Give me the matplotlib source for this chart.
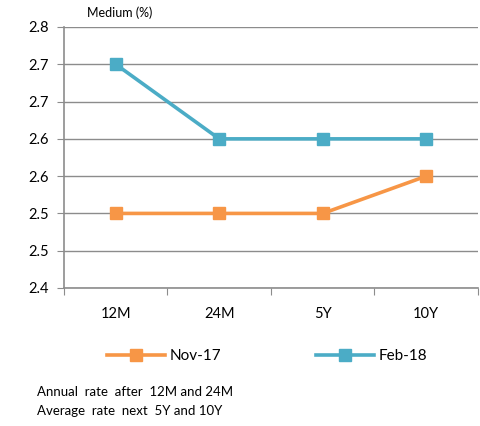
import matplotlib.pyplot as plt
from matplotlib.lines import Line2D

# Data
categories = ['12M', '24M', '5Y', '10Y']
nov17 = [2.50, 2.50, 2.50, 2.55]
feb18 = [2.70, 2.60, 2.60, 2.60]
yticks = [2.40, 2.45, 2.50, 2.55, 2.60, 2.65, 2.70, 2.75]
ytick_labels = ['2.4', '2.5', '2.5', '2.6', '2.6', '2.7', '2.7', '2.8']

orange = '#F79646'
blue = '#4BACC6'
grid_c = '#8C8C8C'

plt.rcParams['font.family'] = ['Lato', 'DejaVu Sans']

fig = plt.figure(figsize=(4.81, 4.26), dpi=100)
ax = fig.add_axes([64/481, 138/426, 414/481, 261/426])

x = list(range(len(categories)))
ax.plot(x, nov17, color=orange, lw=2.6, marker='s', ms=8, zorder=3)
ax.plot(x, feb18, color=blue, lw=2.6, marker='s', ms=8, zorder=3)

ax.set_xlim(-0.5, len(categories) - 0.5)
ax.set_ylim(2.40, 2.75)
ax.set_yticks(yticks)
ax.set_yticklabels(ytick_labels, fontsize=10.5)
ax.yaxis.grid(True, color=grid_c, lw=1)
ax.set_axisbelow(True)

# category labels centred, ticks on boundaries
ax.set_xticks([i - 0.5 for i in range(len(categories) + 1)])
ax.set_xticklabels([])
ax.set_xticks(x, minor=True)
ax.set_xticklabels(categories, minor=True, fontsize=10.5)
ax.tick_params(axis='x', which='minor', length=0, pad=14)
ax.tick_params(axis='x', which='major', length=5, color=grid_c, direction='out')
ax.tick_params(axis='y', length=5, color=grid_c, pad=6)

for s in ['top', 'right']:
    ax.spines[s].set_visible(False)
for s in ['left', 'bottom']:
    ax.spines[s].set_color(grid_c)
    ax.spines[s].set_linewidth(1.2)

fig.text(120/481, 1 - 13/426, 'Medium (%)', ha='center', va='center', fontsize=9)

handles = [Line2D([], [], color=orange, lw=2.6, marker='s', ms=8),
           Line2D([], [], color=blue, lw=2.6, marker='s', ms=8)]
fig.legend(handles, ['Nov-17', 'Feb-18'], loc='center', bbox_to_anchor=(0.555, 1 - 356/426),
           ncol=2, frameon=False, fontsize=11, handlelength=3.8, columnspacing=6.2,
           handletextpad=0.3)

fig.text(37/481, 1 - 392/426, 'Annual  rate  after  12M and 24M', va='center', fontsize=9.5)
fig.text(37/481, 1 - 411/426, 'Average  rate  next  5Y and 10Y', va='center', fontsize=9.5)

fig.savefig('out.png', dpi=100)
